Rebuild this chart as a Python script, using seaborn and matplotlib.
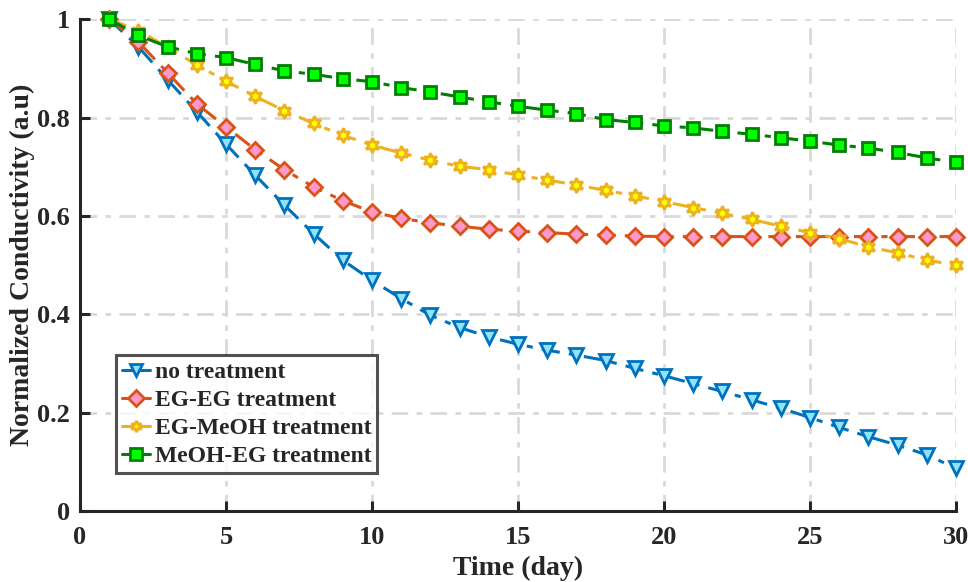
import numpy as np
import pandas as pd
import matplotlib
matplotlib.use("Agg")
import matplotlib.pyplot as plt
import seaborn as sns

days = list(range(1, 31))

no_treatment = [1.000, 0.944, 0.877, 0.812, 0.746, 0.683, 0.622, 0.564, 0.510, 0.469,
                0.432, 0.398, 0.373, 0.354, 0.339, 0.327, 0.317, 0.306, 0.290, 0.275,
                0.259, 0.243, 0.226, 0.209, 0.190, 0.170, 0.151, 0.134, 0.114, 0.087]

eg_eg = [1.000, 0.954, 0.891, 0.828, 0.781, 0.735, 0.694, 0.659, 0.631, 0.608,
         0.595, 0.586, 0.579, 0.573, 0.569, 0.566, 0.563, 0.561, 0.559, 0.558,
         0.558, 0.558, 0.558, 0.558, 0.558, 0.558, 0.558, 0.558, 0.558, 0.558]

eg_meoh = [1.000, 0.977, 0.943, 0.907, 0.874, 0.843, 0.814, 0.788, 0.764, 0.744,
           0.728, 0.713, 0.701, 0.694, 0.683, 0.673, 0.663, 0.652, 0.641, 0.629,
           0.617, 0.605, 0.593, 0.579, 0.566, 0.554, 0.537, 0.525, 0.510, 0.500]

meoh_eg = [1.000, 0.967, 0.944, 0.930, 0.922, 0.908, 0.895, 0.888, 0.879, 0.873,
           0.861, 0.852, 0.842, 0.832, 0.823, 0.815, 0.808, 0.796, 0.790, 0.783,
           0.779, 0.772, 0.766, 0.759, 0.752, 0.744, 0.738, 0.729, 0.718, 0.709]

series_names = ["no treatment", "EG-EG treatment", "EG-MeOH treatment", "MeOH-EG treatment"]
series_values = [no_treatment, eg_eg, eg_meoh, meoh_eg]

x_ticks = [0, 5, 10, 15, 20, 25, 30]
y_ticks = [0, 0.2, 0.4, 0.6, 0.8, 1.0]
y_tick_labels = ["0", "0.2", "0.4", "0.6", "0.8", "1"]

# per-series look: line/edge colour, face colour, marker, marker size
styles = [
    dict(color="#0072BD", mfc="#8FE3F9", marker="v", ms=10.5),
    dict(color="#D95319", mfc="#FF99CC", marker="D", ms=8.5),
    dict(color="#EDB120", mfc="#FFFF00", marker=(6, 1, 0), ms=10.5),
    dict(color="#007F00", mfc="#00FF00", marker="s", ms=8),
]

df = pd.DataFrame({
    "day": np.tile(days, len(series_names)),
    "value": np.concatenate(series_values),
    "series": np.repeat(series_names, len(days)),
})

sns.set_theme(style="white")
plt.rcParams["font.family"] = ["Liberation Serif", "DejaVu Serif"]
plt.rcParams["font.weight"] = "bold"

fig = plt.figure(figsize=(9.68, 5.82), dpi=100)
ax = fig.add_axes([0.0826, 0.122, 0.905, 0.845])

for name, st in zip(series_names, styles):
    sub = df[df["series"] == name]
    sns.lineplot(data=sub, x="day", y="value", ax=ax, label=name,
                 color=st["color"], linewidth=2.2, linestyle="-.",
                 marker=st["marker"], markersize=st["ms"],
                 markerfacecolor=st["mfc"], markeredgecolor=st["color"],
                 markeredgewidth=2.0, zorder=3, clip_on=False)

for line in ax.get_lines():
    line.set_dashes([6, 3, 2, 3])

ax.set_xlim(0, 30)
ax.set_ylim(0, 1)
ax.set_xticks(x_ticks)
ax.set_yticks(y_ticks)
ax.set_yticklabels(y_tick_labels)
ax.grid(True, color="#D9D9D9", linewidth=2, linestyle=(0, (6, 3, 2, 3)))
ax.set_axisbelow(True)

for side in ["top", "right"]:
    ax.spines[side].set_visible(False)
for side in ["left", "bottom"]:
    ax.spines[side].set_color("#262626")
    ax.spines[side].set_linewidth(2.2)

ax.tick_params(axis="both", direction="in", length=7, width=2.2, color="#262626",
               labelsize=19, labelcolor="#262626", pad=7, left=True, bottom=True)
ax.tick_params(axis="x", pad=11)
for lab in ax.get_xticklabels() + ax.get_yticklabels():
    lab.set_fontweight("bold")

ax.set_xlabel("Time (day)", fontsize=20, fontweight="bold", color="#262626", labelpad=5)
ax.set_ylabel("Normalized Conductivity (a.u)", fontsize=20, fontweight="bold",
              color="#262626", labelpad=2)

leg = ax.legend(loc="lower left", bbox_to_anchor=(0.041, 0.077),
                prop={"weight": "bold", "size": 17}, frameon=True, fancybox=False,
                edgecolor="#262626", handlelength=1.2, handletextpad=0.2,
                borderpad=0.25, labelspacing=0.28, borderaxespad=0)
leg.get_frame().set_linewidth(2.2)
for h in leg.get_lines():
    h.set_linestyle("-")
    h.set_markersize(8)

fig.savefig("out.png", dpi=100)
